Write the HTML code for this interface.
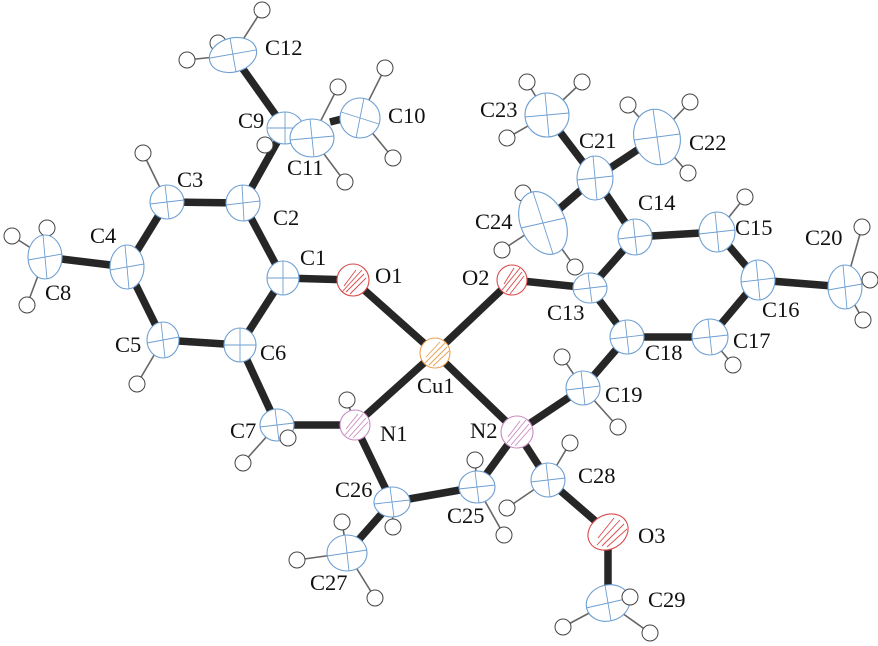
<!DOCTYPE html>
<html><head><meta charset="utf-8"><style>
html,body{margin:0;padding:0;background:#fff;}
svg{display:block;}
text{font-family:"Liberation Serif",serif;font-size:22.5px;fill:#111;}
.b{stroke:#262626;stroke-width:7.5;stroke-linecap:butt;}
.h{stroke:#666;stroke-width:1.6;}
.hc{fill:#fff;stroke:#444;stroke-width:1;}
.a{fill:#fff;stroke:#6e9fd2;stroke-width:1.1;}
.x{stroke:#6e9fd2;stroke-width:0.9;fill:none;}
.o{fill:#fff;stroke:#d94a4a;stroke-width:1.1;}
.ox{stroke:#d94a4a;stroke-width:0.9;fill:none;}
.n{fill:#fff;stroke:#c98ac0;stroke-width:1.1;}
.nx{stroke:#c98ac0;stroke-width:0.9;fill:none;}
.c{fill:#fff;stroke:#e8a050;stroke-width:1.1;}
.cx{stroke:#e8a050;stroke-width:0.9;fill:none;}
</style></head><body>
<svg width="878" height="646" viewBox="0 0 878 646" xmlns="http://www.w3.org/2000/svg">
<g class="h">
<line x1="233" y1="55" x2="262" y2="10"/><line x1="233" y1="55" x2="187" y2="60"/><line x1="233" y1="55" x2="218" y2="43"/>
<line x1="360" y1="118" x2="385" y2="68"/><line x1="360" y1="118" x2="393" y2="158"/>
<line x1="312" y1="138" x2="338" y2="87"/><line x1="312" y1="138" x2="345" y2="182"/><line x1="312" y1="138" x2="265" y2="145"/>
<line x1="167" y1="202" x2="143" y2="153"/>
<line x1="45" y1="257" x2="12" y2="236"/><line x1="45" y1="257" x2="47" y2="228"/><line x1="45" y1="257" x2="27" y2="305"/>
<line x1="163" y1="340" x2="137" y2="384"/>
<line x1="277" y1="425" x2="288" y2="438"/><line x1="277" y1="425" x2="243" y2="463"/>
<line x1="355" y1="425" x2="347" y2="400"/>
<line x1="547" y1="115" x2="527" y2="82"/><line x1="547" y1="115" x2="582" y2="82"/><line x1="547" y1="115" x2="507" y2="138"/>
<line x1="657" y1="137" x2="628" y2="105"/><line x1="657" y1="137" x2="690" y2="102"/><line x1="657" y1="137" x2="688" y2="173"/>
<line x1="543" y1="223" x2="523" y2="193"/><line x1="543" y1="223" x2="502" y2="250"/><line x1="543" y1="223" x2="575" y2="267"/>
<line x1="717" y1="232" x2="745" y2="197"/>
<line x1="845" y1="287" x2="862" y2="227"/><line x1="845" y1="287" x2="870" y2="280"/><line x1="845" y1="287" x2="863" y2="320"/>
<line x1="710" y1="337" x2="733" y2="365"/>
<line x1="583" y1="388" x2="562" y2="357"/><line x1="583" y1="388" x2="618" y2="427"/>
<line x1="477" y1="487" x2="475" y2="460"/><line x1="477" y1="487" x2="504" y2="535"/>
<line x1="392" y1="502" x2="393" y2="527"/>
<line x1="347" y1="553" x2="342" y2="522"/><line x1="347" y1="553" x2="297" y2="560"/><line x1="347" y1="553" x2="375" y2="598"/>
<line x1="548" y1="480" x2="570" y2="443"/><line x1="548" y1="480" x2="507" y2="508"/>
<line x1="608" y1="603" x2="630" y2="597"/><line x1="608" y1="603" x2="563" y2="627"/><line x1="608" y1="603" x2="650" y2="633"/>
</g>
<g class="b">
<line x1="233" y1="55" x2="285" y2="128"/><line x1="285" y1="128" x2="243" y2="203"/>
<line x1="330" y1="122" x2="342" y2="119"/>
<line x1="243" y1="203" x2="167" y2="202"/><line x1="167" y1="202" x2="127" y2="267"/>
<line x1="127" y1="267" x2="45" y2="257"/><line x1="127" y1="267" x2="163" y2="340"/>
<line x1="163" y1="340" x2="240" y2="345"/><line x1="240" y1="345" x2="283" y2="278"/>
<line x1="283" y1="278" x2="243" y2="203"/><line x1="283" y1="278" x2="353" y2="280"/>
<line x1="353" y1="280" x2="435" y2="353"/><line x1="435" y1="353" x2="512" y2="280"/>
<line x1="512" y1="280" x2="590" y2="288"/><line x1="590" y1="288" x2="635" y2="237"/>
<line x1="635" y1="237" x2="595" y2="178"/><line x1="595" y1="178" x2="547" y2="115"/>
<line x1="595" y1="178" x2="657" y2="137"/><line x1="595" y1="178" x2="543" y2="223"/>
<line x1="635" y1="237" x2="717" y2="232"/><line x1="717" y1="232" x2="758" y2="280"/>
<line x1="758" y1="280" x2="845" y2="287"/><line x1="758" y1="280" x2="710" y2="337"/>
<line x1="710" y1="337" x2="627" y2="337"/><line x1="627" y1="337" x2="590" y2="288"/>
<line x1="627" y1="337" x2="583" y2="388"/><line x1="583" y1="388" x2="517" y2="432"/>
<line x1="517" y1="432" x2="435" y2="353"/><line x1="435" y1="353" x2="355" y2="425"/>
<line x1="355" y1="425" x2="277" y2="425"/><line x1="277" y1="425" x2="240" y2="345"/>
<line x1="355" y1="425" x2="392" y2="502"/><line x1="392" y1="502" x2="477" y2="487"/>
<line x1="477" y1="487" x2="517" y2="432"/><line x1="517" y1="432" x2="548" y2="480"/>
<line x1="548" y1="480" x2="608" y2="532"/><line x1="608" y1="532" x2="608" y2="603"/>
<line x1="392" y1="502" x2="347" y2="553"/>
</g>
<g class="hc">
<circle cx="262" cy="10" r="8"/><circle cx="187" cy="60" r="8"/><circle cx="218" cy="43" r="8"/>
<circle cx="385" cy="68" r="8"/><circle cx="393" cy="158" r="8"/>
<circle cx="338" cy="87" r="8"/><circle cx="345" cy="182" r="8"/><circle cx="265" cy="145" r="8"/>
<circle cx="143" cy="153" r="8"/>
<circle cx="12" cy="236" r="8"/><circle cx="47" cy="228" r="8"/><circle cx="27" cy="305" r="8"/>
<circle cx="137" cy="384" r="8"/>
<circle cx="243" cy="463" r="8"/>
<circle cx="347" cy="400" r="8"/>
<circle cx="527" cy="82" r="8"/><circle cx="582" cy="82" r="8"/><circle cx="507" cy="138" r="8"/>
<circle cx="628" cy="105" r="8"/><circle cx="690" cy="102" r="8"/><circle cx="688" cy="173" r="8"/>
<circle cx="523" cy="193" r="8"/><circle cx="502" cy="250" r="8"/><circle cx="575" cy="267" r="8"/>
<circle cx="745" cy="197" r="8"/>
<circle cx="862" cy="227" r="8"/><circle cx="870" cy="280" r="8"/><circle cx="863" cy="320" r="8"/>
<circle cx="733" cy="365" r="8"/>
<circle cx="562" cy="357" r="8"/><circle cx="618" cy="427" r="8"/>
<circle cx="475" cy="460" r="8"/><circle cx="504" cy="535" r="8"/>
<circle cx="393" cy="527" r="8"/>
<circle cx="342" cy="522" r="8"/><circle cx="297" cy="560" r="8"/><circle cx="375" cy="598" r="8"/>
<circle cx="570" cy="443" r="8"/><circle cx="507" cy="508" r="8"/>
<circle cx="563" cy="627" r="8"/><circle cx="650" cy="633" r="8"/>
</g>
<g>
<ellipse class="a" cx="233" cy="55" rx="24" ry="17" transform="rotate(-15 233 55)"/><path class="x" d="M210 58 L256 50 M230 38 L236 72"/>
<ellipse class="a" cx="285" cy="128" rx="18" ry="16"/><path class="x" d="M268 128 H302 M285 112 V144"/>
<ellipse class="a" cx="360" cy="118" rx="20" ry="20"/><path class="x" d="M341 112 L379 124 M364 98 L356 138"/>
<ellipse class="a" cx="312" cy="138" rx="22" ry="19"/><path class="x" d="M290 140 L334 136 M310 119 L314 157"/>
<ellipse class="a" cx="167" cy="202" rx="17" ry="17"/><path class="x" d="M150 204 L184 200 M165 185 L169 219"/>
<ellipse class="a" cx="243" cy="203" rx="17" ry="18"/><path class="x" d="M226 205 L260 201 M242 185 L244 221"/>
<ellipse class="a" cx="127" cy="267" rx="17" ry="22"/><path class="x" d="M110 270 L144 264 M125 245 L129 289"/>
<ellipse class="a" cx="45" cy="257" rx="17" ry="22"/><path class="x" d="M28 260 L62 254 M43 235 L47 279"/>
<ellipse class="a" cx="163" cy="340" rx="16" ry="18"/><path class="x" d="M147 343 L179 337 M161 322 L165 358"/>
<ellipse class="a" cx="240" cy="345" rx="16" ry="17"/><path class="x" d="M224 345 H256 M240 328 V362"/>
<ellipse class="a" cx="283" cy="278" rx="16" ry="17"/><path class="x" d="M267 278 H299 M283 261 V295"/>
<ellipse class="a" cx="277" cy="425" rx="17" ry="16"/><path class="x" d="M260 427 L294 423 M275 409 L279 441"/>
<ellipse class="a" cx="547" cy="115" rx="22" ry="22"/><path class="x" d="M525 117 L569 113 M545 93 L549 137"/>
<ellipse class="a" cx="595" cy="178" rx="18" ry="22"/><path class="x" d="M577 180 L613 176 M593 156 L597 200"/>
<ellipse class="a" cx="657" cy="137" rx="23" ry="28" transform="rotate(-15 657 137)"/><path class="x" d="M634 140 L680 134 M653 109 L661 165"/>
<ellipse class="a" cx="543" cy="223" rx="22" ry="33" transform="rotate(-25 543 223)"/><path class="x" d="M521 228 L565 218 M533 192 L553 254"/>
<ellipse class="a" cx="635" cy="237" rx="17" ry="18"/><path class="x" d="M618 239 L652 235 M633 219 L637 255"/>
<ellipse class="a" cx="717" cy="232" rx="18" ry="20"/><path class="x" d="M699 234 L735 230 M715 212 L719 252"/>
<ellipse class="a" cx="758" cy="280" rx="17" ry="20"/><path class="x" d="M741 282 L775 278 M756 260 L760 300"/>
<ellipse class="a" cx="845" cy="287" rx="17" ry="22"/><path class="x" d="M828 290 L862 284 M843 265 L847 309"/>
<ellipse class="a" cx="710" cy="337" rx="18" ry="18"/><path class="x" d="M692 339 L728 335 M708 319 L712 355"/>
<ellipse class="a" cx="627" cy="337" rx="17" ry="17"/><path class="x" d="M610 339 L644 335 M625 320 L629 354"/>
<ellipse class="a" cx="590" cy="288" rx="17" ry="15"/><path class="x" d="M573 290 L607 286 M588 273 L592 303"/>
<ellipse class="a" cx="583" cy="388" rx="17" ry="17"/><path class="x" d="M566 390 L600 386 M581 371 L585 405"/>
<ellipse class="a" cx="392" cy="502" rx="18" ry="15"/><path class="x" d="M374 504 L410 500 M390 487 L394 517"/>
<ellipse class="a" cx="477" cy="487" rx="18" ry="16"/><path class="x" d="M459 489 L495 485 M475 471 L479 503"/>
<ellipse class="a" cx="347" cy="553" rx="20" ry="18"/><path class="x" d="M327 556 L367 550 M345 535 L349 571"/>
<ellipse class="a" cx="548" cy="480" rx="17" ry="17"/><path class="x" d="M531 482 L565 478 M546 463 L550 497"/>
<ellipse class="a" cx="608" cy="603" rx="22" ry="18" transform="rotate(-15 608 603)"/><path class="x" d="M586 608 L630 598 M605 585 L611 621"/>
</g>
<g>
<circle class="o" cx="353" cy="280" r="16"/><path class="ox" d="M342 292 L362 270 M346 292 L364 274 M350 294 L366 278 M344 286 L356 270"/>
<circle class="o" cx="512" cy="280" r="15"/><path class="ox" d="M502 290 L520 268 M506 292 L522 272 M510 294 L524 276 M504 284 L514 268"/>
<ellipse class="o" cx="608" cy="532" rx="21" ry="17" transform="rotate(-30 608 532)"/><path class="ox" d="M597 545 L620 520 M602 546 L624 524 M607 547 L627 529 M598 538 L614 518"/>
<circle class="c" cx="435" cy="353" r="15"/><path class="cx" d="M425 363 L445 343 M429 365 L447 347 M433 366 L449 351 M426 357 L440 342"/>
<circle class="n" cx="355" cy="425" r="15"/><path class="nx" d="M345 435 L363 414 M349 437 L366 418 M353 438 L368 422 M346 429 L358 414"/>
<circle class="n" cx="517" cy="432" r="16"/><path class="nx" d="M507 443 L526 420 M511 445 L529 424 M515 446 L531 428 M508 437 L520 421"/>
</g>
<g class="hc"><circle cx="288" cy="438" r="8"/><circle cx="630" cy="597" r="8"/></g>
<g>
<text x="265" y="55">C12</text>
<text x="238" y="128">C9</text>
<text x="388" y="123">C10</text>
<text x="287" y="175">C11</text>
<text x="177" y="187">C3</text>
<text x="273" y="225">C2</text>
<text x="90" y="243">C4</text>
<text x="45" y="300">C8</text>
<text x="300" y="265">C1</text>
<text x="375" y="283">O1</text>
<text x="115" y="352">C5</text>
<text x="260" y="360">C6</text>
<text x="230" y="438">C7</text>
<text x="417" y="393">Cu1</text>
<text x="380" y="441">N1</text>
<text x="470" y="438">N2</text>
<text x="335" y="497">C26</text>
<text x="447" y="523">C25</text>
<text x="310" y="590">C27</text>
<text x="578" y="483">C28</text>
<text x="638" y="543">O3</text>
<text x="648" y="607">C29</text>
<text x="462" y="285">O2</text>
<text x="547" y="320">C13</text>
<text x="645" y="360">C18</text>
<text x="605" y="402">C19</text>
<text x="733" y="348">C17</text>
<text x="762" y="317">C16</text>
<text x="805" y="245">C20</text>
<text x="735" y="235">C15</text>
<text x="638" y="210">C14</text>
<text x="475" y="229">C24</text>
<text x="579" y="148">C21</text>
<text x="689" y="150">C22</text>
<text x="480" y="117">C23</text>
</g>
</svg>
</body></html>
